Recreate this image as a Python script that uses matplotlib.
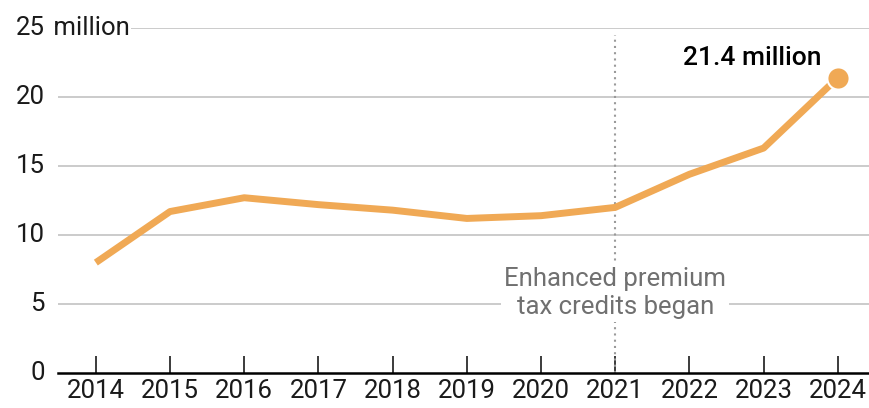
import matplotlib
matplotlib.use("Agg")
import matplotlib.pyplot as plt

years = [2014, 2015, 2016, 2017, 2018, 2019, 2020, 2021, 2022, 2023, 2024]
enrollment = [8.0, 11.7, 12.7, 12.2, 11.8, 11.2, 11.4, 12.0, 14.4, 16.3, 21.4]
y_ticks = [0, 5, 10, 15, 20, 25]

orange = "#F0A955"
plt.rcParams["font.family"] = ["Roboto", "DejaVu Sans"]
plt.rcParams["text.color"] = "#1a1a1a"
plt.rcParams["xtick.color"] = "#1a1a1a"

fig = plt.figure(figsize=(8.69, 4.08), dpi=100)
ax = fig.add_axes([58 / 869, 35 / 408, 811 / 869, 345 / 408])
ax.set_xlim(2013.49, 2024.42)
ax.set_ylim(0, 25)

# grid
for v in y_ticks[1:]:
    ax.axhline(v, color="#bdbdbd", lw=1.1, zorder=1)

# 2021 marker
ax.axvline(2021, ymax=0.98, color="#9a9a9a", lw=1.5, ls=(0, (1, 2)), zorder=2)
ax.text(2021, 5.8, "Enhanced premium\ntax credits began", ha="center", va="center",
        fontsize=18.5, color="#707070", linespacing=1.2, zorder=3,
        bbox=dict(facecolor="white", edgecolor="none", pad=2))

ax.plot(years, enrollment, color=orange, lw=5, solid_capstyle="butt", zorder=4)
ax.plot(years[-1], enrollment[-1], "o", ms=16, color=orange, mec="white", mew=1.5,
        clip_on=False, zorder=5)
ax.text(years[-1] - 0.22, enrollment[-1] + 1.4, f"{enrollment[-1]} million", ha="right",
        va="center", fontsize=19, fontweight="medium", color="black", zorder=5)

# axes
for s in ["top", "right", "left"]:
    ax.spines[s].set_visible(False)
ax.spines["bottom"].set_linewidth(1.8)
ax.spines["bottom"].set_zorder(6)
ax.set_xticks(years)
ax.set_xticklabels([str(y) for y in years], fontsize=18.5)
ax.tick_params(axis="x", direction="in", length=12, width=1.2, pad=4)
ax.set_yticks([])

for v in y_ticks:
    ax.text(45 / 869, ax.transData.transform((0, v))[1] / 408, str(v),
            transform=fig.transFigure, ha="right", va="center", fontsize=18.5)
ax.text(47 / 869, ax.transData.transform((0, 25))[1] / 408, " million",
        transform=fig.transFigure, ha="left", va="center", fontsize=18.5,
        bbox=dict(facecolor="white", edgecolor="none", pad=1))

fig.savefig("out.png", dpi=100)
